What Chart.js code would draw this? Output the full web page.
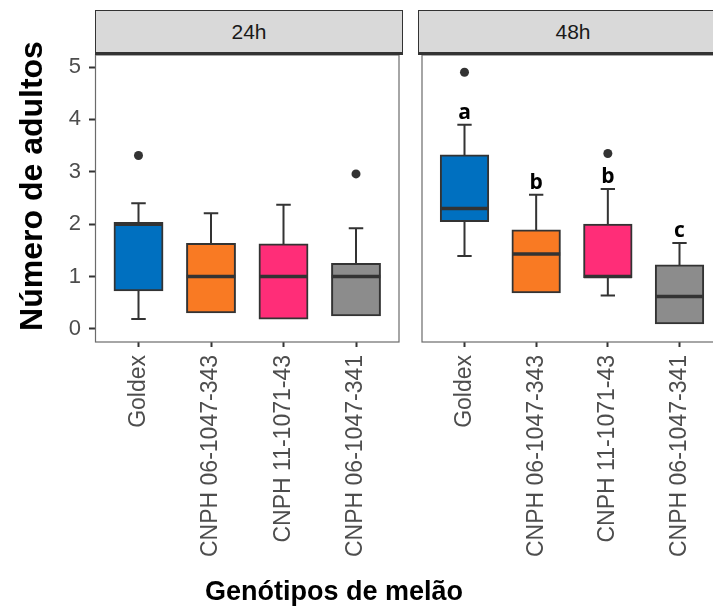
<!DOCTYPE html>
<html>
<head>
<meta charset="utf-8">
<script src="https://cdn.jsdelivr.net/npm/chart.js@4.4.1/dist/chart.umd.min.js"></script>
<style>
    html, body { margin: 0; padding: 0; background: #fff; overflow: hidden; }
    #figura { position: relative; width: 713px; height: 613px; overflow: hidden; font-family: "Liberation Sans", Arial, sans-serif; }
    canvas { position: absolute; top: 0; }
    .strip { position: absolute; top: 10px; height: 41px; background: #d9d9d9; border: 1px solid #333; border-bottom: 3px solid #333; text-align: center; line-height: 41px; font-size: 21px; color: #1a1a1a; }
    #titulo_y { position: absolute; left: -169px; top: 166px; width: 400px; height: 40px; line-height: 40px; text-align: center; font-weight: bold; font-size: 32px; color: #000; transform: rotate(-90deg); white-space: nowrap; }
    #titulo_x { position: absolute; left: 0; top: 576px; width: 668px; text-align: center; font-weight: bold; font-size: 27px; color: #000; white-space: nowrap; }
</style>
</head>
<body>
<div id="figura">
    <canvas id="canvas_24h" width="404" height="613" style="left:0px"></canvas>
    <canvas id="canvas_48h" width="310" height="613" style="left:417px"></canvas>
    <div class="strip" style="left:95px; width:306px;">24h</div>
    <div class="strip" style="left:418px; width:308px;">48h</div>
    <div id="titulo_y">Número de adultos</div>
    <div id="titulo_x">Genótipos de melão</div>
</div>
<script>
const genotipos = ['Goldex', 'CNPH 06-1047-343', 'CNPH 11-1071-43', 'CNPH 06-1047-341'];
const cores = ['#0070C0', '#F97A23', '#FF2D78', '#8C8C8C'];
const y_ticks = [0, 1, 2, 3, 4, 5];

// 24h
const minimo_24h = [0.19, 0.32, 0.20, 0.26];
const q1_24h = [0.74, 0.32, 0.20, 0.26];
const mediana_24h = [2.00, 1.00, 1.00, 1.00];
const q3_24h = [2.02, 1.62, 1.61, 1.24];
const maximo_24h = [2.40, 2.21, 2.37, 1.92];
const outliers_24h = [[3.31], [], [], [2.96]];
const letras_24h = ['', '', '', ''];

// 48h
const minimo_48h = [1.39, 0.70, 0.64, 0.11];
const q1_48h = [2.06, 0.70, 0.99, 0.11];
const mediana_48h = [2.30, 1.43, 1.00, 0.62];
const q3_48h = [3.31, 1.88, 1.99, 1.21];
const maximo_48h = [3.90, 2.56, 2.67, 1.64];
const outliers_48h = [[4.90], [], [3.35], []];
const letras_48h = ['a', 'b', 'b', 'c'];

Chart.defaults.font.family = '"Liberation Sans", Arial, sans-serif';

function painel_boxplot(id, minimo, q1, mediana, q3, maximo, outliers, letras, com_eixo_y) {
    let caixas = [],
        pontos = [];
    for (let count = 0; count < genotipos.length; count++) {
        caixas.push({ x: count, y: [q1[count], q3[count]] });
        for (let k = 0; k < outliers[count].length; k++) {
            pontos.push({ x: count, y: outliers[count][k] });
        }
    }

    const plugin_boxplot = {
        id: 'boxplot_' + id,
        beforeDatasetsDraw(chart) {
            const ctx = chart.ctx, xs = chart.scales.x, ys = chart.scales.y;
            const area = chart.chartArea;
            ctx.save();
            ctx.strokeStyle = '#6b6b6b';
            ctx.lineWidth = 1.2;
            ctx.strokeRect(area.left + 0.5, area.top, area.right - area.left - 1, area.bottom - area.top);
            // whiskers (errorbar)
            const meia_cap = xs.getPixelForValue(0.1) - xs.getPixelForValue(0);
            ctx.strokeStyle = '#333';
            ctx.lineWidth = 2;
            for (let i = 0; i < genotipos.length; i++) {
                const x = xs.getPixelForValue(i);
                const y_max = ys.getPixelForValue(maximo[i]),
                    y_min = ys.getPixelForValue(minimo[i]);
                ctx.beginPath();
                if (maximo[i] > q3[i]) {
                    ctx.moveTo(x, y_max);
                    ctx.lineTo(x, ys.getPixelForValue(q3[i]));
                    ctx.moveTo(x - meia_cap, y_max);
                    ctx.lineTo(x + meia_cap, y_max);
                }
                if (minimo[i] < q1[i]) {
                    ctx.moveTo(x, y_min);
                    ctx.lineTo(x, ys.getPixelForValue(q1[i]));
                    ctx.moveTo(x - meia_cap, y_min);
                    ctx.lineTo(x + meia_cap, y_min);
                }
                ctx.stroke();
            }
            ctx.restore();
        },
        afterDatasetsDraw(chart) {
            const ctx = chart.ctx, xs = chart.scales.x, ys = chart.scales.y;
            const meia_caixa = xs.getPixelForValue(0.335) - xs.getPixelForValue(0);
            ctx.save();
            ctx.strokeStyle = '#333';
            ctx.lineWidth = 3.5;
            for (let i = 0; i < genotipos.length; i++) {
                const x = xs.getPixelForValue(i),
                    y = ys.getPixelForValue(mediana[i]);
                ctx.beginPath();
                ctx.moveTo(x - meia_caixa, y);
                ctx.lineTo(x + meia_caixa, y);
                ctx.stroke();
            }
            ctx.fillStyle = '#000';
            ctx.font = 'bold 21px "Open Sans", "Liberation Sans", sans-serif';
            ctx.textAlign = 'center';
            ctx.textBaseline = 'alphabetic';
            for (let i = 0; i < letras.length; i++) {
                if (letras[i]) {
                    ctx.fillText(letras[i], xs.getPixelForValue(i), ys.getPixelForValue(maximo[i]) - 6);
                }
            }
            ctx.restore();
        }
    };

    let chart_datas = {
        datasets: [
            {
                type: 'bar',
                data: caixas,
                backgroundColor: cores,
                borderColor: '#333',
                borderWidth: 2,
                borderSkipped: false,
                inflateAmount: 1,
                categoryPercentage: 1,
                barPercentage: 0.66
            },
            {
                type: 'scatter',
                data: pontos,
                backgroundColor: '#333',
                borderWidth: 0,
                pointRadius: 4.5
            }
        ]
    };
    let options = {
        responsive: false,
        animation: false,
        devicePixelRatio: 1,
        layout: {
            padding: { top: 55, right: 1, bottom: 0, left: com_eixo_y ? 0 : 1 }
        },
        plugins: {
            legend: { display: false },
            tooltip: { enabled: false }
        },
        scales: {
            x: {
                type: 'linear',
                min: -0.6,
                max: 3.6,
                offset: false,
                afterBuildTicks: function (scale) {
                    scale.ticks = genotipos.map(function (g, i) { return { value: i }; });
                },
                afterFit: function (scale) {
                    scale.height = 271;
                    scale.paddingLeft = 0;
                    scale.paddingRight = 0;
                },
                ticks: {
                    autoSkip: false,
                    minRotation: 90,
                    maxRotation: 90,
                    padding: 8,
                    color: '#4d4d4d',
                    font: { size: 23 },
                    callback: function (value) { return genotipos[value]; }
                },
                grid: { offset: false, drawOnChartArea: false, drawTicks: true, tickLength: 5, tickColor: '#333', tickWidth: 2 },
                border: { display: false }
            },
            y: {
                display: com_eixo_y,
                min: -0.25,
                max: 5.23,
                afterBuildTicks: function (scale) {
                    scale.ticks = y_ticks.map(function (v) { return { value: v }; });
                },
                afterFit: function (scale) {
                    scale.width = com_eixo_y ? 95 : 0;
                    scale.paddingTop = 0;
                    scale.paddingBottom = 0;
                },
                ticks: {
                    padding: 8,
                    color: '#4d4d4d',
                    font: { size: 22 }
                },
                grid: { drawOnChartArea: false, drawTicks: true, tickLength: 6, tickColor: '#333', tickWidth: 2 },
                border: { display: false }
            }
        }
    };
    const graph = new Chart(document.getElementById(id), {
        type: 'bar',
        data: chart_datas,
        options: options,
        plugins: [plugin_boxplot]
    });
    return graph;
}

painel_boxplot('canvas_24h', minimo_24h, q1_24h, mediana_24h, q3_24h, maximo_24h, outliers_24h, letras_24h, true);
painel_boxplot('canvas_48h', minimo_48h, q1_48h, mediana_48h, q3_48h, maximo_48h, outliers_48h, letras_48h, false);
</script>
</body>
</html>
